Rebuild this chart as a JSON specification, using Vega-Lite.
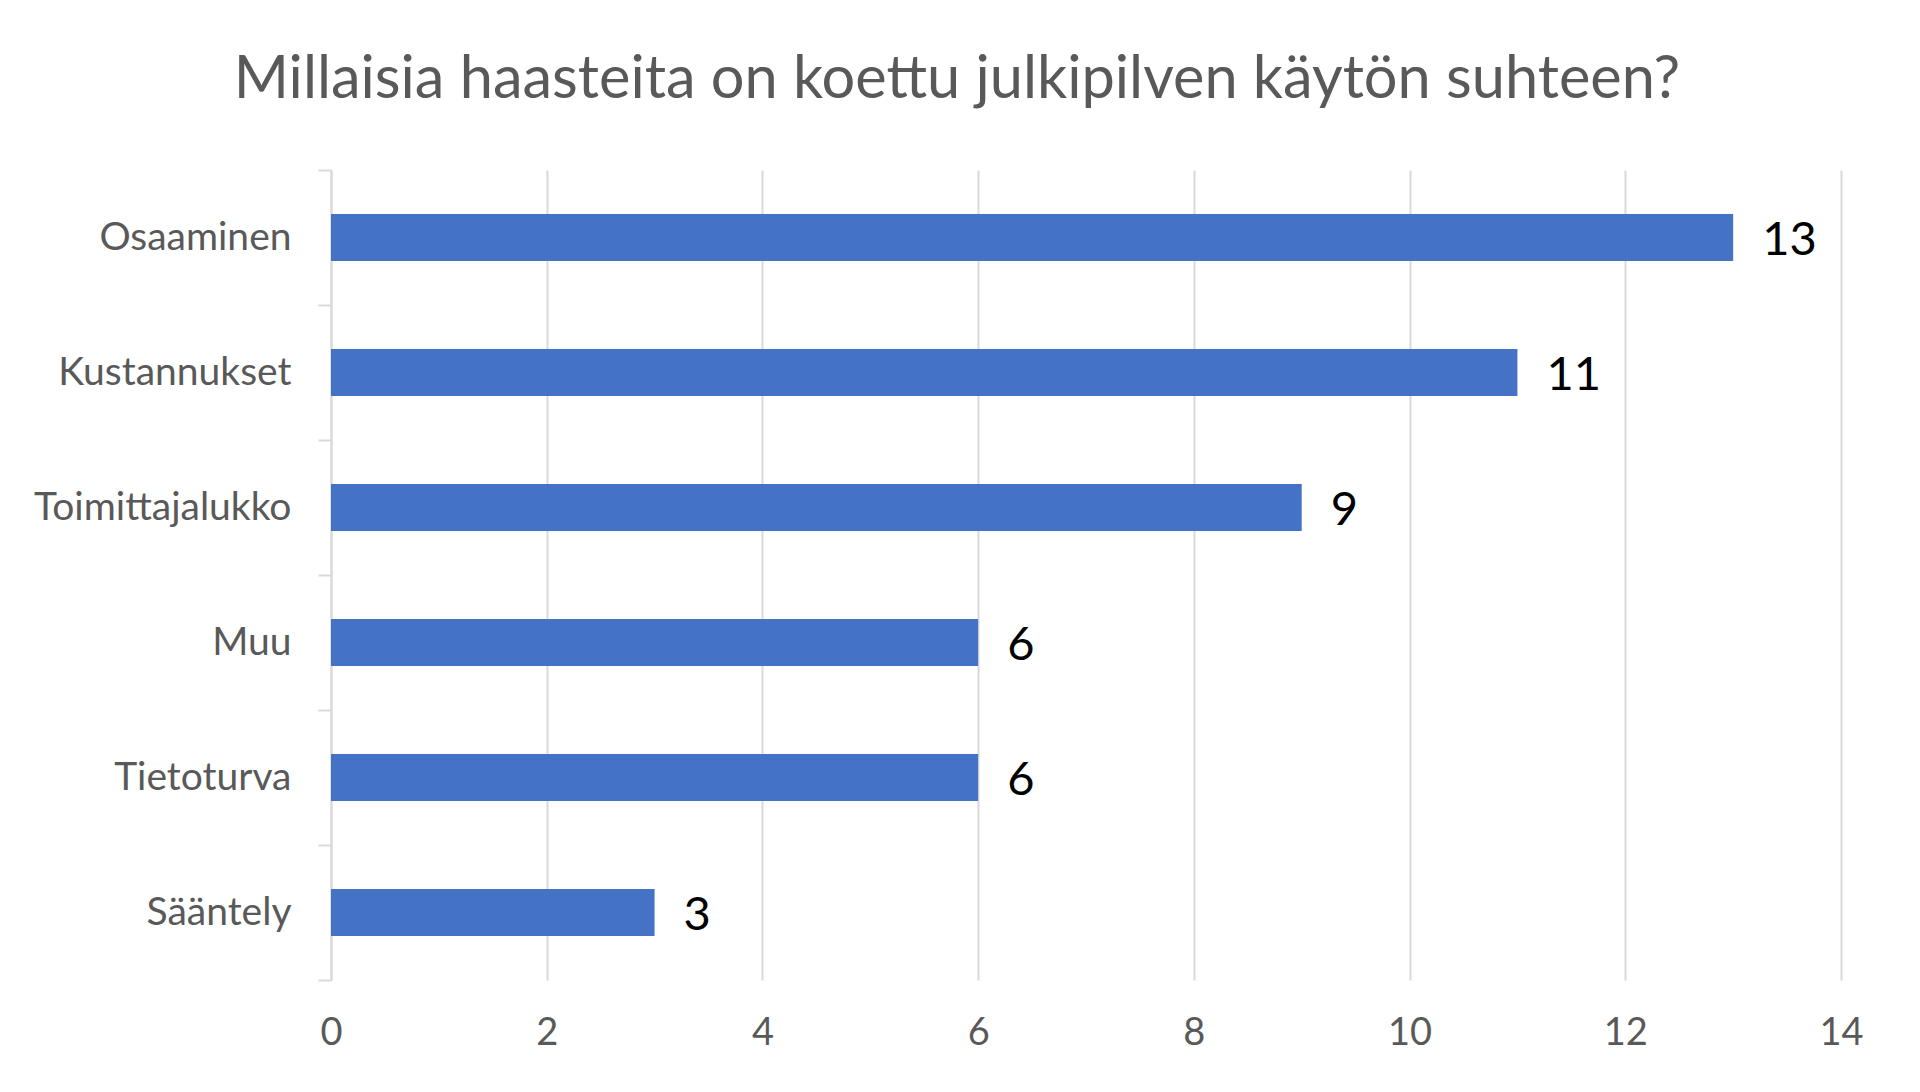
{
  "$schema": "https://vega.github.io/schema/vega-lite/v6.json",
  "autosize": "none",
  "width": 1510,
  "height": 810,
  "padding": {"left": 331, "top": 170, "right": 79, "bottom": 112},
  "background": "#ffffff",
  "title": {
    "text": "Millaisia haasteita on koettu julkipilven käytön suhteen?",
    "font": "Lato",
    "fontSize": 59.5,
    "fontWeight": "normal",
    "color": "#595959",
    "anchor": "middle",
    "frame": "group",
    "dx": -129,
    "baseline": "alphabetic",
    "offset": -6
  },
  "data": {
    "values": [
      {"haaste": "Osaaminen", "maara": 13},
      {"haaste": "Kustannukset", "maara": 11},
      {"haaste": "Toimittajalukko", "maara": 9},
      {"haaste": "Muu", "maara": 6},
      {"haaste": "Tietoturva", "maara": 6},
      {"haaste": "Sääntely", "maara": 3}
    ]
  },
  "encoding": {
    "y": {
      "field": "haaste",
      "type": "nominal",
      "sort": null,
      "title": null,
      "scale": {"paddingInner": 0, "paddingOuter": 0},
      "axis": {
        "domainColor": "#d9d9d9",
        "domainWidth": 2,
        "tickColor": "#d9d9d9",
        "tickWidth": 2,
        "tickSize": 13,
        "tickBand": "extent",
        "labelFont": "Lato",
        "labelFontSize": 39,
        "labelColor": "#595959",
        "labelPadding": 27,
        "labelLimit": 0,
        "grid": false
      }
    },
    "x": {
      "field": "maara",
      "type": "quantitative",
      "title": null,
      "scale": {"domain": [0, 14], "nice": false},
      "axis": {
        "values": [0, 2, 4, 6, 8, 10, 12, 14],
        "domain": false,
        "ticks": false,
        "grid": true,
        "gridColor": "#d9d9d9",
        "gridWidth": 2,
        "labelFont": "Lato",
        "labelFontSize": 38,
        "labelColor": "#595959",
        "labelPadding": 53,
        "labelBaseline": "middle",
        "labelFlush": false
      }
    }
  },
  "layer": [
    {
      "mark": {"type": "bar", "color": "#4472c4", "height": {"band": 0.348}}
    },
    {
      "mark": {
        "type": "text",
        "align": "left",
        "baseline": "middle",
        "dx": 29,
        "dy": 3,
        "font": "Lato",
        "fontSize": 47,
        "color": "#000000"
      },
      "encoding": {"text": {"field": "maara", "type": "quantitative"}}
    }
  ],
  "config": {"view": {"stroke": null}}
}
